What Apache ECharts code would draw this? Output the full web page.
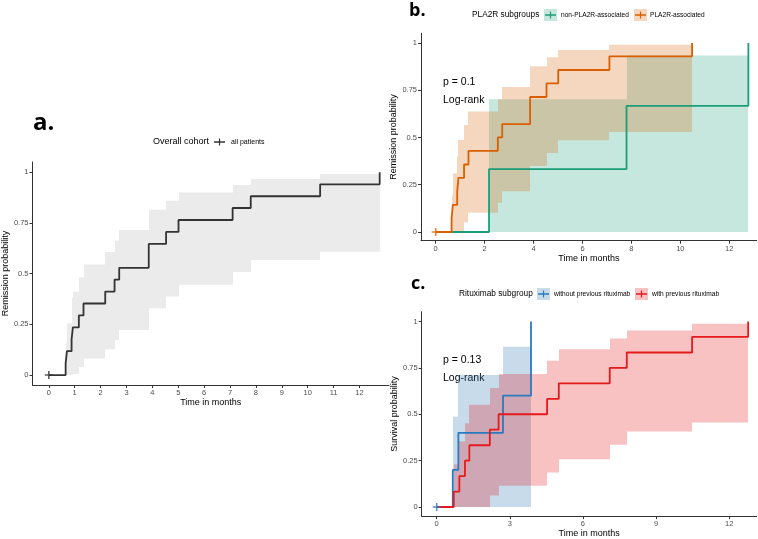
<!DOCTYPE html>
<html><head><meta charset="utf-8">
<script src="https://cdn.jsdelivr.net/npm/echarts@6/dist/echarts.min.js"></script>
<style>html,body{margin:0;padding:0;background:#fff}#c{width:758px;height:539px}</style>
</head><body><div id="c"></div>
<script>
// ---------- Panel a: overall cohort ----------
const allTime  = [0, 0.65, 0.70, 0.88, 0.93, 1.16, 1.34, 2.18, 2.54, 2.72, 3.86, 4.53, 5.01, 7.10, 7.80, 10.48, 12.78];
const allSurv  = [0, 0.059, 0.118, 0.176, 0.235, 0.294, 0.353, 0.412, 0.471, 0.529, 0.647, 0.706, 0.765, 0.824, 0.882, 0.941, 1.0];
const allUpper = [0, 0.16, 0.255, 0.38, 0.411, 0.482, 0.545, 0.607, 0.663, 0.715, 0.815, 0.86, 0.901, 0.937, 0.967, 0.992, 1.0];
const allLower = [0, 0, 0, 0, 0.005, 0.04, 0.082, 0.127, 0.173, 0.222, 0.329, 0.387, 0.445, 0.509, 0.567, 0.608, 1.0];

// ---------- Panel b: PLA2R subgroups ----------
const nonPlaTime  = [0, 2.18, 7.80, 12.78];
const nonPlaSurv  = [0, 0.333, 0.667, 1.0];
const nonPlaUpper = [0, 0.702, 0.933, 1.0];
const nonPlaLower = [0, 0, 0, 1.0];

const plaTime  = [0, 0.65, 0.70, 0.88, 0.93, 1.16, 1.34, 2.54, 2.72, 3.86, 4.53, 5.01, 7.10, 10.48];
const plaSurv  = [0, 0.071, 0.143, 0.214, 0.286, 0.357, 0.429, 0.5, 0.571, 0.714, 0.786, 0.857, 0.929, 1.0];
const plaUpper = [0, 0.19, 0.31, 0.40, 0.487, 0.566, 0.637, 0.702, 0.767, 0.877, 0.924, 0.963, 0.991, 1.0];
const plaLower = [0, 0, 0, 0, 0, 0.051, 0.102, 0.155, 0.215, 0.349, 0.418, 0.485, 0.529, 1.0];

// ---------- Panel c: Rituximab subgroup ----------
const noRtxTime  = [0, 0.66, 0.89, 2.72, 3.87];
const noRtxSurv  = [0, 0.2, 0.4, 0.6, 1.0];
const noRtxUpper = [0, 0.487, 0.712, 0.864, 1.0];
const noRtxLower = [0, 0, 0, 0, 1.0];

const rtxTime  = [0, 0.70, 0.93, 1.16, 1.34, 2.18, 2.54, 4.53, 5.01, 7.10, 7.80, 10.48, 12.78];
const rtxSurv  = [0, 0.083, 0.167, 0.25, 0.333, 0.417, 0.5, 0.583, 0.667, 0.75, 0.833, 0.917, 1.0];
const rtxUpper = [0, 0.23, 0.354, 0.451, 0.552, 0.642, 0.717, 0.788, 0.850, 0.908, 0.952, 0.988, 1.0];
const rtxLower = [0, 0, 0, 0, 0, 0.062, 0.115, 0.186, 0.257, 0.336, 0.407, 0.455, 1.0];

// ---------- tick labels ----------
const xTicksA = [0,1,2,3,4,5,6,7,8,9,10,11,12];
const xTicksB = [0,2,4,6,8,10,12];
const xTicksC = [0,3,6,9,12];
const yTicks  = [0,0.25,0.5,0.75,1];

const FONT = "'Liberation Sans', Arial, sans-serif";
const PLUS = 'path://M4,0h2v4h4v2h-4v4h-2v-4h-4v-2h4z';

function bandSeries(g, times, lower, upper, bandColor) {
  const data = times.slice(0, -1).map((t, i) => [t, times[i + 1], lower[i], upper[i]]);
  return { type:'custom', xAxisIndex:g, yAxisIndex:g, silent:true,
    encode:{ x:[0,1], y:[2,3] }, data:data,
    renderItem: function (params, api) {
      const p0 = api.coord([api.value(0), api.value(2)]);
      const p1 = api.coord([api.value(1), api.value(3)]);
      const x0 = Math.round(p0[0]), x1 = Math.round(p1[0]);
      if (p0[1] - p1[1] <= 0) return null;
      return { type:'rect', shape:{ x:x0, y:p1[1], width:x1 - x0, height:p0[1] - p1[1] },
        style:{ fill:bandColor } };
    } };
}
function lineSeries(g, times, surv, lineColor, lw) {
  return { type:'line', xAxisIndex:g, yAxisIndex:g, step:'end', symbol:'none', silent:true,
    lineStyle:{width:lw, color:lineColor}, data: times.map((t,i)=>[t, surv[i]]) };
}
function censor(g, color) {
  return { type:'scatter', xAxisIndex:g, yAxisIndex:g, symbol:PLUS, symbolSize:8, silent:true,
    itemStyle:{color:color}, data:[[0,0]], z:5 };
}

function xAx(g, min, max, ticks) {
  return { gridIndex:g, type:'value', min:min, max:max,
    name:'Time in months', nameLocation:'middle', nameGap:11,
    nameTextStyle:{fontFamily:FONT, fontSize:9, color:'#000'},
    splitLine:{show:false},
    axisLine:{show:true, onZero:false, lineStyle:{color:'#333', width:1}},
    axisTick:{show:true, length:3, customValues:ticks, lineStyle:{color:'#333'}},
    axisLabel:{show:true, margin:4, customValues:ticks, fontFamily:FONT, fontSize:7.5, color:'#4d4d4d'} };
}
function yAx(g, min, max, name) {
  return { gridIndex:g, type:'value', min:min, max:max,
    name:name, nameLocation:'middle', nameGap:19,
    nameTextStyle:{fontFamily:FONT, fontSize:9, color:'#000'},
    splitLine:{show:false},
    axisLine:{show:true, onZero:false, lineStyle:{color:'#333', width:1}},
    axisTick:{show:true, length:3, customValues:yTicks, lineStyle:{color:'#333'}},
    axisLabel:{show:true, margin:4, customValues:yTicks, fontFamily:FONT, fontSize:7.5, color:'#4d4d4d'} };
}

function txt(x, y, s, size, opts) {
  return { type:'text', x:x, y:y, silent:true,
    style:{ text:s, font: (opts && opts.weight ? opts.weight+' ' : '') + size + 'px ' + ((opts && opts.family) || FONT),
      fill:(opts && opts.fill) || '#000', align:'left', verticalAlign:'middle' } };
}
function key(x, y, bandColor, lineColor) {
  const els = [];
  if (bandColor) els.push({ type:'rect', silent:true, shape:{x:x, y:y-6, width:13, height:12}, style:{fill:bandColor} });
  els.push({ type:'line', silent:true, shape:{x1:x+1, y1:y, x2:x+12, y2:y}, style:{stroke:lineColor, lineWidth:1.5} });
  els.push({ type:'line', silent:true, shape:{x1:x+6.5, y1:y-3.5, x2:x+6.5, y2:y+3.5}, style:{stroke:lineColor, lineWidth:1.2} });
  return els;
}

const GREEN = '#1b9e77', ORANGE = '#d95f02', BLUE = '#2a7abf', RED = '#e41a1c';
const GREEN_BAND = 'rgba(27,158,119,0.25)', ORANGE_BAND = 'rgba(217,95,2,0.25)';
const BLUE_BAND = 'rgba(55,126,184,0.28)', RED_BAND = 'rgba(228,26,28,0.27)';

const option = {
  animation:false,
  grid:[
    { left:29.3, top:162, width:359.7, height:223 },
    { left:421, top:33.3, width:335.7, height:207.4 },
    { left:421.7, top:311.7, width:335, height:207.6 }
  ],
  xAxis:[ xAx(0, -0.63, 13.14, xTicksA), xAx(1, -0.60, 13.12, xTicksB), xAx(2, -0.615, 13.13, xTicksC) ],
  yAxis:[ yAx(0, -0.049, 1.051, 'Remission probability'),
          yAx(1, -0.046, 1.051, 'Remission probability'),
          yAx(2, -0.049, 1.053, 'Survival probability') ],
  series:[
    bandSeries(0, allTime, allLower, allUpper, '#ebebeb'),
    lineSeries(0, allTime, allSurv, '#333333', 1.8),
    censor(0, '#333333'),
    bandSeries(1, nonPlaTime, nonPlaLower, nonPlaUpper, GREEN_BAND),
    lineSeries(1, nonPlaTime, nonPlaSurv, GREEN, 1.8),
    bandSeries(1, plaTime, plaLower, plaUpper, ORANGE_BAND),
    lineSeries(1, plaTime, plaSurv, ORANGE, 1.8),
    censor(1, ORANGE),
    bandSeries(2, noRtxTime, noRtxLower, noRtxUpper, BLUE_BAND),
    lineSeries(2, noRtxTime, noRtxSurv, BLUE, 1.8),
    bandSeries(2, rtxTime, rtxLower, rtxUpper, RED_BAND),
    lineSeries(2, rtxTime, rtxSurv, RED, 1.8),
    censor(2, BLUE)
  ],
  graphic:[].concat(
    [ txt(33, 123, 'a.', 24, {weight:'bold', family:"'Open Sans', sans-serif"}),
      txt(409, 11, 'b.', 18, {weight:'bold', family:"'Open Sans', sans-serif"}),
      txt(411, 284, 'c.', 18, {weight:'bold', family:"'Open Sans', sans-serif"}),
      txt(153, 142, 'Overall cohort', 9),
      txt(231, 142, 'all patients', 7),
      txt(472, 15, 'PLA2R subgroups', 8.3),
      txt(561, 15, 'non-PLA2R-associated', 6.6),
      txt(650, 15, 'PLA2R-associated', 6.6),
      txt(459, 294, 'Rituximab subgroup', 8.3),
      txt(554, 294, 'without previous rituximab', 6.6),
      txt(652, 294, 'with previous rituximab', 6.6),
      txt(443, 82, 'p = 0.1', 10.5),
      txt(443, 100, 'Log-rank', 10.5),
      txt(443, 360, 'p = 0.13', 10.5),
      txt(443, 378, 'Log-rank', 10.5) ],
    key(213, 142, null, '#333333'),
    key(544, 15, GREEN_BAND, GREEN),
    key(634, 15, ORANGE_BAND, ORANGE),
    key(537, 294, BLUE_BAND, BLUE),
    key(635, 294, RED_BAND, RED)
  )
};
const chart = echarts.init(document.getElementById('c'), null, {renderer:'canvas'});
chart.setOption(option);
</script>
</body></html>
